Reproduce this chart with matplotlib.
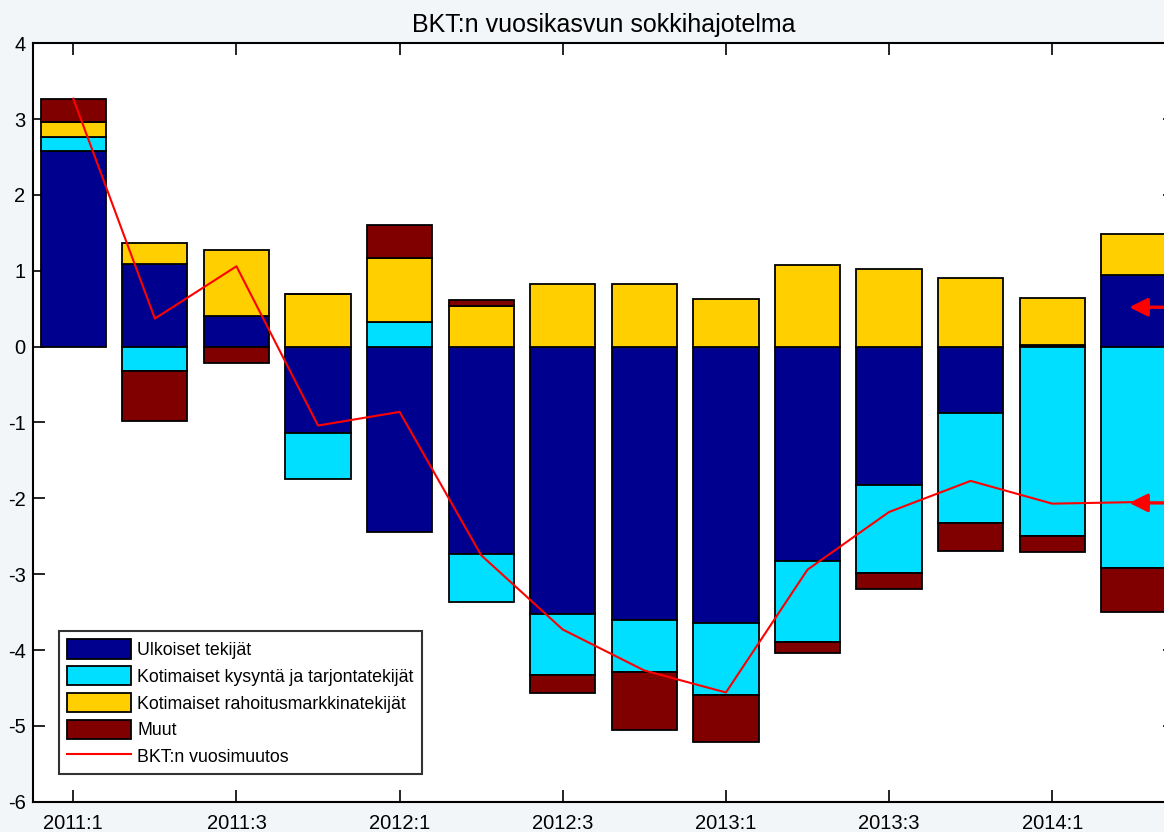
import numpy as np
import matplotlib
matplotlib.use('Agg')
import matplotlib.pyplot as plt

plt.rcParams['font.family'] = ['Liberation Sans', 'DejaVu Sans']
plt.rcParams['axes.unicode_minus'] = False

# Quarters 2011:1 ... 2014:2
quarters = ['2011:1', '2011:2', '2011:3', '2011:4',
            '2012:1', '2012:2', '2012:3', '2012:4',
            '2013:1', '2013:2', '2013:3', '2013:4',
            '2014:1', '2014:2']

# Shock contributions (percentage points)
ulkoiset = [2.58, 1.09, 0.41, -1.14, -2.45, -2.74, -3.53, -3.61, -3.65, -2.82, -1.82, -0.88, 0.02, 0.94]
kysynta = [0.19, -0.32, 0.0, -0.61, 0.32, -0.63, -0.80, -0.68, -0.94, -1.08, -1.16, -1.44, -2.49, -2.92]
rahoitus = [0.19, 0.28, 0.87, 0.70, 0.85, 0.53, 0.83, 0.83, 0.63, 1.08, 1.02, 0.91, 0.62, 0.54]
muut = [0.31, -0.66, -0.22, 0.0, 0.43, 0.08, -0.24, -0.77, -0.62, -0.14, -0.22, -0.37, -0.22, -0.58]

# GDP annual change
bkt = [3.27, 0.37, 1.06, -1.04, -0.86, -2.75, -3.73, -4.27, -4.56, -2.94, -2.18, -1.77, -2.07, -2.05]

# Arrow targets on the last quarter
arrow_y = [0.52, -2.06]

series = [ulkoiset, kysynta, rahoitus, muut]
labels = ['Ulkoiset tekijät', 'Kotimaiset kysyntä ja tarjontatekijät',
          'Kotimaiset rahoitusmarkkinatekijät', 'Muut']
colors = ['#00008F', '#00DFFF', '#FFCF00', '#800000']

fig = plt.figure(figsize=(11.64, 8.32), dpi=100, facecolor='#F3F6F9')
ax = fig.add_axes([32.5 / 1164, 30.3 / 832, 1142.1 / 1164, 758.4 / 832])
ax.set_facecolor('white')

x = np.arange(len(quarters))
pos_base = np.zeros(len(quarters))
neg_base = np.zeros(len(quarters))
handles = []
for vals, lab, col in zip(series, labels, colors):
    v = np.array(vals)
    bottom = np.where(v >= 0, pos_base, neg_base)
    h = ax.bar(x, v, width=0.8, bottom=bottom, color=col, edgecolor='black',
               linewidth=1.3, label=lab, zorder=2)
    handles.append(h)
    pos_base = pos_base + np.where(v >= 0, v, 0)
    neg_base = neg_base + np.where(v < 0, v, 0)

line, = ax.plot(x, bkt, color='red', linewidth=1.5, label='BKT:n vuosimuutos', zorder=3)
handles.append(line)

for ay in arrow_y:
    ax.annotate('', xy=(x[-1] - 0.09, ay), xytext=(x[-1] + 0.6, ay),
                arrowprops=dict(arrowstyle='-|>,head_length=1.1,head_width=0.55',
                                color='red', linewidth=2.4),
                annotation_clip=False, zorder=4)

ax.set_xlim(-0.5, 13.5)
ax.set_ylim(-6, 4)
ax.set_yticks(range(-6, 5))
ax.set_xticks(x[::2])
ax.set_xticklabels(quarters[::2])
ax.tick_params(axis='both', direction='in', length=8.5, width=1.2,
               labelsize=14.5, top=True, right=True)
ax.tick_params(axis='y', pad=5)
ax.tick_params(axis='x', pad=9)
for s in ax.spines.values():
    s.set_linewidth(1.5)

ax.set_title('BKT:n vuosikasvun sokkihajotelma', fontsize=18, pad=8)

leg = ax.legend(handles=handles, loc='lower left', bbox_to_anchor=(0.0232, 0.0365),
                borderaxespad=0, fontsize=12.8, frameon=True, fancybox=False,
                edgecolor='black', handlelength=3.6, handleheight=1.3,
                labelspacing=0.4, handletextpad=0.35, borderpad=0.45)
leg.get_frame().set_linewidth(1.5)

fig.savefig('out.png', dpi=100, facecolor=fig.get_facecolor())
